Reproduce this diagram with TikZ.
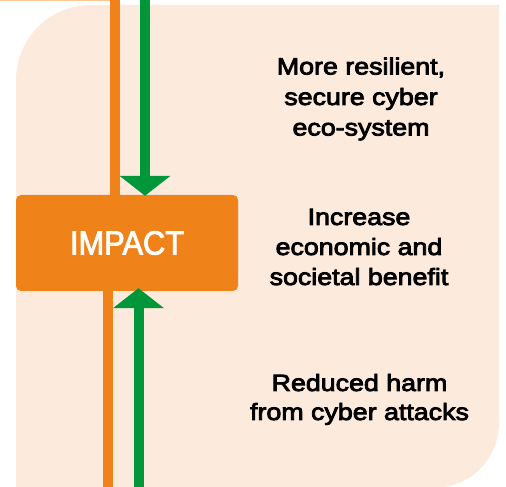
\documentclass[tikz,border=0pt]{standalone}
\usepackage{fontspec}
\usetikzlibrary{arrows.meta}
\newfontfamily\lblfont[FakeStretch=1.14,FakeBold=3.5]{Liberation Sans}
\newfontfamily\impfont[FakeStretch=0.92,FakeBold=2.5]{Liberation Sans}
\definecolor{peach}{RGB}{252,235,221}
\definecolor{impor}{RGB}{240,130,26}
\definecolor{impgreen}{RGB}{0,150,57}
\definecolor{lightor}{RGB}{251,200,150}
\tikzset{
  lbl/.style={anchor=base,inner sep=0pt,font=\lblfont\fontsize{23.5}{30}\selectfont,text=black},
  orline/.style={draw=impor,line width=10pt},
  grarrow/.style={draw=impgreen,line width=10pt,-{Triangle[width=50pt,length=20pt]}},
  impbox/.style={fill=impor,rounded corners=5pt,minimum width=222pt,minimum height=96pt,inner sep=0pt,text=white,font=\impfont\fontsize{33.5}{40}\selectfont}
}
\begin{document}
\begin{tikzpicture}[x=1pt,y=1pt]
\useasboundingbox (0,0) rectangle (506,487);
% background
\fill[peach] (16,-1) -- (16,407) arc[start angle=180,end angle=90,radius=75pt] -- (499,482) -- (499,64) arc[start angle=0,end angle=-90,radius=65pt] -- cycle;
% thin top line
\fill[lightor] (0,486) rectangle (111,487);
% coordinates
\coordinate (otop) at (115,490);
\coordinate (gtop) at (145,490);
\coordinate (obot) at (107.5,-3);
\coordinate (gbot) at (138.5,-3);
% box
\node[impbox] (imp) at (127,244) {IMPACT};
% lines
\draw[orline] (otop) -- (otop |- imp.north);
\draw[orline] (obot) -- (obot |- imp.south);
\draw[grarrow,shorten >=-1pt] (gtop) -- (gtop |- imp.north);
\draw[grarrow,shorten >=-3pt] (gbot) -- (gbot |- imp.south);
% texts
\node[lbl] (t1a) at (361,412.5) {More resilient,};
\node[lbl] (t1b) at (361,382) {secure cyber};
\node[lbl] (t1c) at (361,351.5) {eco-system};
\node[lbl] (t2a) at (359,262) {Increase};
\node[lbl] (t2b) at (359,232) {economic and};
\node[lbl] (t2c) at (359,202) {societal benefit};
\node[lbl] (t3a) at (359.5,96) {Reduced harm};
\node[lbl] (t3b) at (359.5,67) {from cyber attacks};
\end{tikzpicture}
\end{document}
